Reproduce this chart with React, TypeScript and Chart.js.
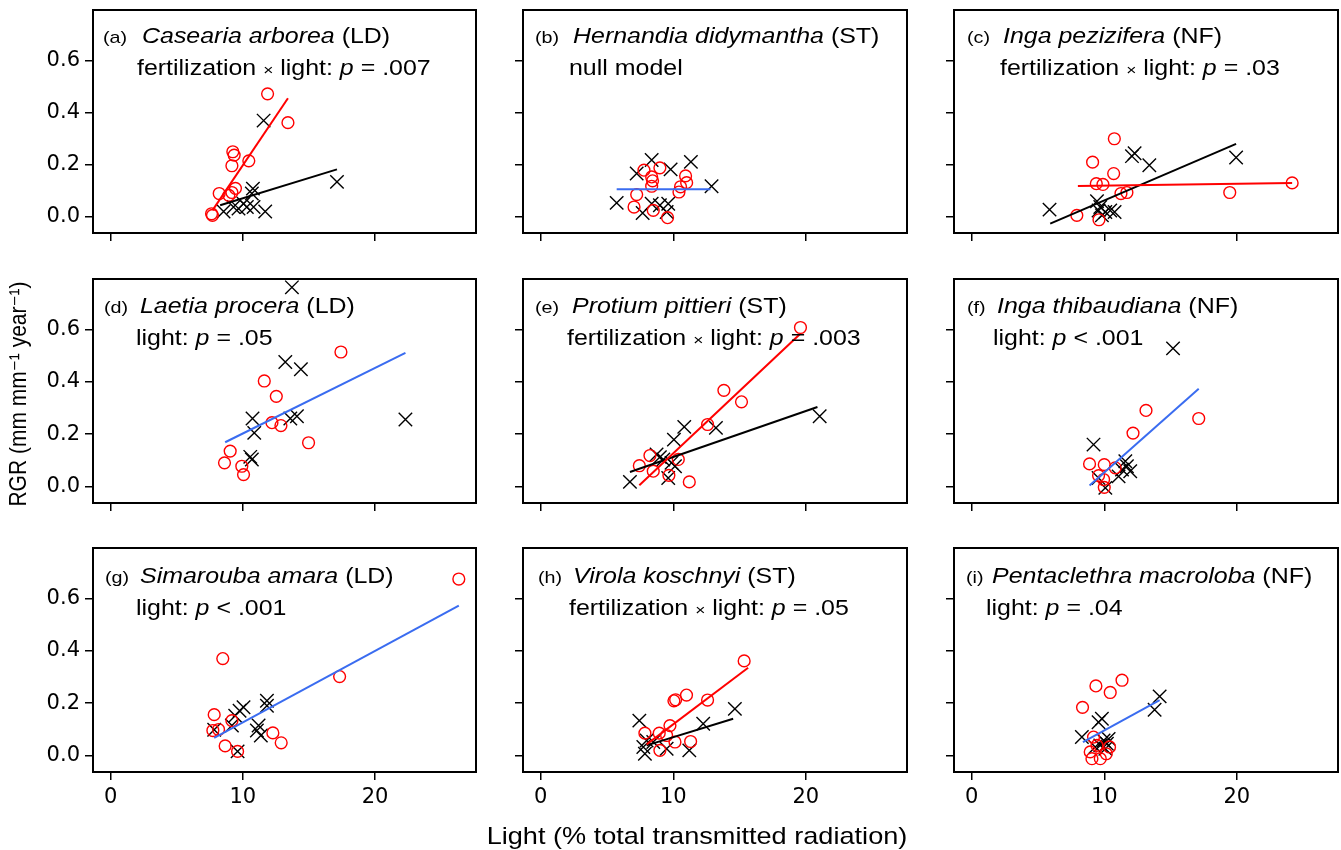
import React, { useEffect, useRef } from 'react';
import { Chart, registerables } from 'chart.js';

Chart.register(...registerables);

type Pt = [number, number];

// ---------- axes ----------
const xTickValues = [0, 10, 20];
const yTickValues = [0, 0.2, 0.4, 0.6];
const xMin = -1.34;
const xMax = 27.64;
const yMin = -0.064;
const yMax = 0.795;

const xAxisTitle = 'Light (% total transmitted radiation)';
const yAxisTitle = 'RGR (mm mm\u207B\u00B9 year\u207B\u00B9)';

// ---------- panel texts ----------
const panelLetters = ['(a)', '(b)', '(c)', '(d)', '(e)', '(f)', '(g)', '(h)', '(i)'];
const speciesNames = [
  'Casearia arborea',
  'Hernandia didymantha',
  'Inga pezizifera',
  'Laetia procera',
  'Protium pittieri',
  'Inga thibaudiana',
  'Simarouba amara',
  'Virola koschnyi',
  'Pentaclethra macroloba',
];
const guildCodes = ['LD', 'ST', 'NF', 'LD', 'ST', 'NF', 'LD', 'ST', 'NF'];
const modelTerms = [
  'fertilization × light',
  'null model',
  'fertilization × light',
  'light',
  'fertilization × light',
  'light',
  'light',
  'fertilization × light',
  'light',
];
const pRelations = ['=', '', '=', '=', '=', '<', '<', '=', '='];
const pValues = ['.007', '', '.03', '.05', '.003', '.001', '.001', '.05', '.04'];

// ---------- data (x = light %, y = RGR) ----------
const aCircles: Pt[] = [[11.87, 0.472], [13.41, 0.361], [9.24, 0.249], [9.34, 0.236], [9.17, 0.195], [10.45, 0.214], [9.44, 0.108], [9.17, 0.092], [8.21, 0.088], [8.94, 0.081], [7.63, 0.01], [7.7, 0.004]];
const aCrosses: Pt[] = [[11.57, 0.369], [17.12, 0.133], [10.76, 0.107], [10.68, 0.088], [8.54, 0.019], [9.29, 0.036], [9.67, 0.03], [10.05, 0.049], [10.3, 0.036], [10.81, 0.036], [11.69, 0.019]];
const aCircleFit: Pt[] = [[7.7, 0.023], [13.41, 0.455]];
const aCrossFit: Pt[] = [[8.28, 0.043], [17.12, 0.181]];

const bCircles: Pt[] = [[7.79, 0.178], [8.99, 0.187], [8.37, 0.152], [8.44, 0.137], [8.37, 0.116], [10.93, 0.156], [11.01, 0.13], [10.55, 0.114], [10.43, 0.094], [7.24, 0.084], [7.04, 0.036], [8.49, 0.023], [9.57, -0.005]];
const bCrosses: Pt[] = [[8.37, 0.217], [7.24, 0.165], [9.8, 0.181], [11.33, 0.21], [12.89, 0.116], [5.73, 0.052], [7.69, 0.013], [8.37, 0.049], [8.99, 0.043], [9.5, 0.017], [9.62, 0.049]];
const bPooledFit: Pt[] = [[5.73, 0.105], [12.81, 0.105]];

const cCircles: Pt[] = [[10.76, 0.299], [9.12, 0.209], [10.71, 0.165], [9.4, 0.126], [9.9, 0.123], [11.26, 0.088], [11.71, 0.092], [19.47, 0.092], [24.18, 0.129], [7.93, 0.004], [9.6, -0.013]];
const cCrosses: Pt[] = [[12.29, 0.243], [12.09, 0.232], [13.4, 0.197], [19.95, 0.227], [5.87, 0.026], [9.45, 0.058], [9.57, 0.023], [9.82, 0.004], [10.08, 0.017], [10.45, 0.023], [10.78, 0.017], [9.7, 0.036]];
const cCircleFit: Pt[] = [[8.01, 0.117], [24.18, 0.129]];
const cCrossFit: Pt[] = [[5.92, -0.028], [19.95, 0.279]];

const dCircles: Pt[] = [[17.42, 0.515], [11.62, 0.404], [12.53, 0.345], [12.2, 0.244], [12.88, 0.233], [14.97, 0.167], [9.04, 0.135], [8.61, 0.09], [9.92, 0.077], [10.05, 0.045]];
const dCrosses: Pt[] = [[13.71, 0.763], [13.21, 0.477], [14.39, 0.449], [10.73, 0.26], [10.86, 0.205], [13.59, 0.26], [14.09, 0.269], [22.3, 0.256], [10.56, 0.113], [10.68, 0.103]];
const dPooledFit: Pt[] = [[8.66, 0.169], [22.3, 0.512]];

const eCircles: Pt[] = [[19.6, 0.609], [13.82, 0.368], [15.15, 0.324], [12.59, 0.237], [8.24, 0.118], [7.44, 0.079], [8.49, 0.058], [10.38, 0.103], [9.67, 0.042], [11.21, 0.017]];
const eCrosses: Pt[] = [[21.05, 0.269], [10.83, 0.228], [13.22, 0.224], [10.05, 0.179], [8.99, 0.112], [9.25, 0.103], [9.87, 0.09], [10.13, 0.077], [9.62, 0.032], [6.73, 0.017], [8.74, 0.122]];
const eCircleFit: Pt[] = [[7.44, 0.004], [19.55, 0.583]];
const eCrossFit: Pt[] = [[6.73, 0.055], [20.88, 0.304]];

const fCircles: Pt[] = [[13.15, 0.291], [17.13, 0.26], [12.17, 0.204], [8.89, 0.086], [10.0, 0.083], [9.57, 0.041], [9.95, 0.026], [10.0, -0.004], [10.83, 0.071]];
const fCrosses: Pt[] = [[15.19, 0.529], [9.19, 0.16], [11.59, 0.096], [11.71, 0.077], [11.96, 0.058], [11.34, 0.064], [11.08, 0.038], [9.57, 0.032], [10.08, -0.006]];
const fPooledFit: Pt[] = [[8.89, 0.003], [17.13, 0.374]];

const gCircles: Pt[] = [[26.34, 0.676], [8.48, 0.371], [17.32, 0.302], [7.83, 0.156], [9.17, 0.133], [7.73, 0.095], [8.16, 0.099], [12.27, 0.086], [12.9, 0.048], [8.66, 0.036], [9.6, 0.015]];
const gCrosses: Pt[] = [[11.82, 0.209], [11.82, 0.19], [10.05, 0.184], [9.75, 0.171], [9.42, 0.152], [9.17, 0.114], [11.19, 0.114], [11.06, 0.095], [11.36, 0.076], [7.83, 0.098], [9.6, 0.015]];
const gPooledFit: Pt[] = [[7.83, 0.067], [26.34, 0.574]];

const hCircles: Pt[] = [[15.35, 0.362], [11.0, 0.231], [10.05, 0.209], [10.18, 0.213], [12.59, 0.212], [9.75, 0.114], [7.86, 0.085], [8.94, 0.085], [9.5, 0.076], [10.13, 0.051], [11.31, 0.053], [8.99, 0.019]];
const hCrosses: Pt[] = [[14.65, 0.178], [7.44, 0.133], [12.26, 0.121], [7.99, 0.057], [8.49, 0.051], [7.86, 0.006], [9.5, 0.025], [11.21, 0.019], [7.74, 0.032]];
const hCircleFit: Pt[] = [[7.99, 0.042], [15.65, 0.336]];
const hCrossFit: Pt[] = [[7.99, 0.038], [14.52, 0.14]];

const iCircles: Pt[] = [[11.34, 0.288], [9.37, 0.266], [10.45, 0.241], [8.36, 0.184], [9.19, 0.07], [8.94, 0.013], [9.07, -0.013], [9.7, -0.013], [10.15, 0.006], [10.4, 0.032], [9.45, 0.038]];
const iCrosses: Pt[] = [[14.18, 0.226], [13.8, 0.175], [9.82, 0.14], [9.57, 0.127], [8.31, 0.07], [9.95, 0.057], [10.2, 0.044], [10.33, 0.063], [9.7, 0.038], [9.32, 0.032], [10.08, 0.025]];
const iPooledFit: Pt[] = [[8.39, 0.051], [14.18, 0.212]];

// ---------- styles / layout ----------
const RED = '#ff0000';
const BLACK = '#000000';
const BLUE = '#3a6cf0';

type Fit = { pts: Pt[]; color: string };
type PanelSpec = { circles: Pt[]; crosses: Pt[]; fits: Fit[] };

const panels: PanelSpec[] = [
  { circles: aCircles, crosses: aCrosses, fits: [{ pts: aCircleFit, color: RED }, { pts: aCrossFit, color: BLACK }] },
  { circles: bCircles, crosses: bCrosses, fits: [{ pts: bPooledFit, color: BLUE }] },
  { circles: cCircles, crosses: cCrosses, fits: [{ pts: cCircleFit, color: RED }, { pts: cCrossFit, color: BLACK }] },
  { circles: dCircles, crosses: dCrosses, fits: [{ pts: dPooledFit, color: BLUE }] },
  { circles: eCircles, crosses: eCrosses, fits: [{ pts: eCircleFit, color: RED }, { pts: eCrossFit, color: BLACK }] },
  { circles: fCircles, crosses: fCrosses, fits: [{ pts: fPooledFit, color: BLUE }] },
  { circles: gCircles, crosses: gCrosses, fits: [{ pts: gPooledFit, color: BLUE }] },
  { circles: hCircles, crosses: hCrosses, fits: [{ pts: hCircleFit, color: RED }, { pts: hCrossFit, color: BLACK }] },
  { circles: iCircles, crosses: iCrosses, fits: [{ pts: iPooledFit, color: BLUE }] },
];

const colLeft = [93, 523, 954];
const colRight = [476, 907, 1338];
const rowTop = [10, 279, 548];
const rowBottom = [233, 503, 772];

// text offsets inside each panel (px from box left)
const letterOffset = [10, 12, 13, 11, 12, 13, 12, 15, 12];
const speciesOffset = [49, 50, 49, 47, 49, 43, 47, 50, 38];
const line2Offset = [44, 46, 46, 43, 44, 39, 43, 46, 32];
const baseline1 = [33, 34, 35];
const baseline2 = [65, 66, 67];

const SX = 1.16;
const SANS = '"Liberation Sans", Arial, "DejaVu Sans", sans-serif';
const TICK_FONT = 'DejaVu Sans';
const TXT = 21.5;

type Run = { text: string; font: string };

function drawRuns(ctx: CanvasRenderingContext2D, x: number, y: number, runs: Run[]) {
  ctx.save();
  ctx.translate(x, y);
  ctx.scale(SX, 1);
  ctx.textAlign = 'left';
  ctx.textBaseline = 'alphabetic';
  let cx = 0;
  for (const r of runs) {
    ctx.font = r.font;
    ctx.fillText(r.text, cx, 0);
    cx += ctx.measureText(r.text).width;
  }
  ctx.restore();
}

function Panel({ index }: { index: number }) {
  const ref = useRef<HTMLCanvasElement>(null);
  const row = Math.floor(index / 3);
  const col = index % 3;
  const yAxisW = col === 0 ? 93 : 60;
  const xAxisH = row === 2 ? 850 - rowBottom[2] : 12;
  const padT = 3;
  const padR = 3;
  const plotW = colRight[col] - colLeft[col];
  const plotH = rowBottom[row] - rowTop[row];
  const width = yAxisW + plotW + padR;
  const height = padT + plotH + xAxisH;
  const left = colLeft[col] - yAxisW;
  const top = rowTop[row] - padT;

  useEffect(() => {
    const canvas = ref.current;
    if (!canvas) return;
    const spec = panels[index];
    const datasets: any[] = [];
    spec.fits.forEach((f) => {
      datasets.push({
        data: f.pts.map(([x, y]) => ({ x, y })),
        showLine: true,
        borderColor: f.color,
        borderWidth: 2,
        pointRadius: 0,
        fill: false,
      });
    });
    datasets.push({
      data: spec.circles.map(([x, y]) => ({ x, y })),
      showLine: false,
      pointStyle: 'circle',
      pointRadius: 5.9,
      pointBorderWidth: 1.4,
      pointBorderColor: RED,
      pointBackgroundColor: 'rgba(0,0,0,0)',
      borderColor: RED,
      backgroundColor: 'rgba(0,0,0,0)',
    });
    datasets.push({
      data: spec.crosses.map(([x, y]) => ({ x, y })),
      showLine: false,
      pointStyle: 'crossRot',
      pointRadius: 9.5,
      pointBorderWidth: 1.4,
      pointBorderColor: BLACK,
      borderColor: BLACK,
      backgroundColor: BLACK,
    });

    const framePlugin = {
      id: 'frame',
      beforeDatasetsDraw(chart: any) {
        const { ctx, chartArea } = chart;
        ctx.save();
        ctx.strokeStyle = '#000';
        ctx.lineWidth = 2;
        ctx.strokeRect(chartArea.left, chartArea.top, chartArea.right - chartArea.left, chartArea.bottom - chartArea.top);
        ctx.restore();
      },
    };

    const textPlugin = {
      id: 'panelText',
      afterDraw(chart: any) {
        const { ctx, chartArea } = chart;
        ctx.save();
        ctx.fillStyle = '#000';
        const y1 = chartArea.top + baseline1[row];
        const y2 = chartArea.top + baseline2[row];
        drawRuns(ctx, chartArea.left + letterOffset[index], y1, [{ text: panelLetters[index], font: `17px ${SANS}` }]);
        drawRuns(ctx, chartArea.left + speciesOffset[index], y1, [
          { text: speciesNames[index], font: `italic ${TXT}px ${SANS}` },
          { text: ` (${guildCodes[index]})`, font: `${TXT}px ${SANS}` },
        ]);
        const term = modelTerms[index];
        let runs: Run[] = [];
        if (!pRelations[index]) {
          runs = [{ text: term, font: `${TXT}px ${SANS}` }];
        } else {
          const parts = term.split(' × ');
          if (parts.length === 2) {
            runs.push({ text: parts[0] + ' ', font: `${TXT}px ${SANS}` });
            runs.push({ text: '×', font: `15px ${SANS}` });
            runs.push({ text: ' ' + parts[1] + ': ', font: `${TXT}px ${SANS}` });
          } else {
            runs.push({ text: term + ': ', font: `${TXT}px ${SANS}` });
          }
          runs.push({ text: 'p', font: `italic ${TXT}px ${SANS}` });
          runs.push({ text: ` ${pRelations[index]} ${pValues[index]}`, font: `${TXT}px ${SANS}` });
        }
        drawRuns(ctx, chartArea.left + line2Offset[index], y2, runs);

        if (index === 7) {
          // shared x-axis title
          ctx.save();
          ctx.translate(697 - left, 844 - top);
          ctx.scale(1.14, 1);
          ctx.font = `23.8px ${SANS}`;
          ctx.textAlign = 'center';
          ctx.textBaseline = 'alphabetic';
          ctx.fillText(xAxisTitle, 0, 0);
          ctx.restore();
        }
        if (index === 3) {
          // shared y-axis title
          ctx.save();
          ctx.translate(26 - left, 394 - top);
          ctx.rotate(-Math.PI / 2);
          ctx.scale(1, 1.14);
          ctx.font = `21px ${SANS}`;
          ctx.textAlign = 'center';
          ctx.textBaseline = 'alphabetic';
          ctx.fillText(yAxisTitle, 0, 0);
          ctx.restore();
        }
        ctx.restore();
      },
    };

    const chart = new Chart(canvas, {
      type: 'scatter',
      data: { datasets },
      options: {
        animation: false,
        responsive: false,
        maintainAspectRatio: false,
        devicePixelRatio: 1,
        events: [],
        layout: { autoPadding: false, padding: { top: padT, right: padR, left: 0, bottom: 0 } },
        plugins: {
          legend: { display: false },
          tooltip: { enabled: false },
          title: { display: false },
        },
        scales: {
          x: {
            type: 'linear',
            position: 'bottom',
            min: xMin,
            max: xMax,
            afterBuildTicks: (s: any) => {
              s.ticks = xTickValues.map((v) => ({ value: v }));
            },
            afterFit: (s: any) => {
              s.height = xAxisH;
              s.paddingLeft = 0;
              s.paddingRight = 0;
              s.paddingTop = 0;
              s.paddingBottom = 0;
            },
            grid: { display: true, drawOnChartArea: false, drawTicks: true, tickLength: 8, color: '#000', lineWidth: 1.5 },
            border: { display: false },
            ticks: {
              display: row === 2,
              autoSkip: false,
              maxRotation: 0,
              padding: 5,
              color: '#000',
              font: { family: TICK_FONT, size: 21 },
              callback: (v: any) => String(v),
            },
          },
          y: {
            type: 'linear',
            position: 'left',
            min: yMin,
            max: yMax,
            afterBuildTicks: (s: any) => {
              s.ticks = yTickValues.map((v) => ({ value: v }));
            },
            afterFit: (s: any) => {
              s.width = yAxisW;
              s.paddingLeft = 0;
              s.paddingRight = 0;
              s.paddingTop = 0;
              s.paddingBottom = 0;
            },
            grid: { display: true, drawOnChartArea: false, drawTicks: true, tickLength: 8, color: '#000', lineWidth: 1.5 },
            border: { display: false },
            ticks: {
              display: col === 0,
              autoSkip: false,
              padding: 5,
              color: '#000',
              font: { family: TICK_FONT, size: 21 },
              callback: (v: any) => Number(v).toFixed(1),
            },
          },
        },
      } as any,
      plugins: [framePlugin, textPlugin],
    });
    return () => chart.destroy();
  }, [index]);

  return (
    <canvas
      ref={ref}
      width={width}
      height={height}
      style={{ position: 'absolute', left, top, width, height }}
    />
  );
}

export default function App() {
  return (
    <div style={{ position: 'absolute', left: 0, top: 0, width: 1341, height: 850, background: '#fff' }}>
      {panels.map((_, i) => (
        <Panel key={i} index={i} />
      ))}
    </div>
  );
}
